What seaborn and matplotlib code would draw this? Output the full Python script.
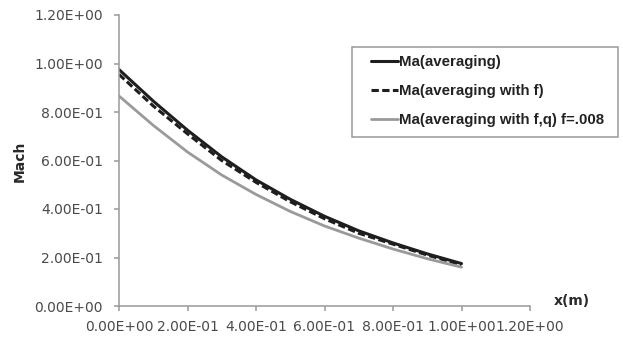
import numpy as np
import pandas as pd
import matplotlib
matplotlib.use("Agg")
import matplotlib.pyplot as plt
from matplotlib.patches import Rectangle
import seaborn as sns

x_vals = [0.0, 0.1, 0.2, 0.3, 0.4, 0.5, 0.6, 0.7, 0.8, 0.9, 1.0]
ma_avg = [0.975, 0.845, 0.725, 0.615, 0.52, 0.44, 0.37, 0.31, 0.26, 0.215, 0.175]
ma_avg_f = [0.955, 0.825, 0.71, 0.60, 0.51, 0.43, 0.36, 0.30, 0.255, 0.21, 0.17]
ma_avg_fq = [0.866, 0.745, 0.635, 0.54, 0.46, 0.39, 0.33, 0.28, 0.235, 0.195, 0.16]
series_names = ["Ma(averaging)", "Ma(averaging with f)", "Ma(averaging with f,q) f=.008"]
x_ticks = [0.0, 0.2, 0.4, 0.6, 0.8, 1.0, 1.2]
y_ticks = [0.0, 0.2, 0.4, 0.6, 0.8, 1.0, 1.2]

sns.set_theme(style="white")
plt.rcParams['font.family'] = ['DejaVu Sans']

df = pd.DataFrame({
    "x": x_vals * 3,
    "Mach": ma_avg + ma_avg_f + ma_avg_fq,
    "series": [series_names[0]] * len(x_vals) + [series_names[1]] * len(x_vals) + [series_names[2]] * len(x_vals),
})

W, H = 623, 343
fig = plt.figure(figsize=(W / 100, H / 100), dpi=100)
ax = fig.add_axes([119/W, 1-306/H, (530-119)/W, (306-15)/H])

styles = {
    series_names[0]: dict(color="#1e1e1e", linestyle="-", linewidth=2.2),
    series_names[1]: dict(color="#1e1e1e", linestyle=(0, (2.4, 1.1)), linewidth=2.2),
    series_names[2]: dict(color="#9a9a9a", linestyle="-", linewidth=2.0),
}
for name in series_names:
    sub = df[df["series"] == name]
    sns.lineplot(data=sub, x="x", y="Mach", ax=ax, label=name, **styles[name])

ax.set_xlim(0, 1.2)
ax.set_ylim(0, 1.2)
ax.set_xticks(x_ticks)
ax.set_yticks(y_ticks)
ax.set_xticklabels([f"{v:.2E}" for v in x_ticks])
ax.set_yticklabels([f"{v:.2E}" for v in y_ticks])
ax.set_xlabel("")
ax.set_ylabel("")
for s in ["top", "right"]:
    ax.spines[s].set_visible(False)
for s in ["left", "bottom"]:
    ax.spines[s].set_color("#999999")
    ax.spines[s].set_linewidth(1.1)
ax.tick_params(axis="both", which="major", direction="out", length=3.6, width=1.1,
               color="#999999", labelsize=10, labelcolor="#4a4a4a")
ax.tick_params(axis="y", pad=8)
ax.tick_params(axis="x", pad=6.5)
ax.tick_params(left=True, bottom=True)

fig.text(20/W, 1-161/H, "Mach", rotation=90, ha="center", va="center",
         fontsize=10, fontweight="bold", color="#2a2a2a")
fig.text(572/W, 1-301/H, "x(m)", ha="center", va="center",
         fontsize=10, fontweight="bold", color="#2a2a2a")

# legend frame
ax.add_patch(Rectangle((352/W, 1-137/H), (618-352)/W, (137-47)/H,
                       transform=fig.transFigure, facecolor="white",
                       edgecolor="#999999", linewidth=1.1, zorder=4, clip_on=False))

leg = ax.legend(loc="upper left", bbox_to_anchor=(371/W, 1-55/H),
                bbox_transform=fig.transFigure, frameon=False,
                handlelength=1.8, handletextpad=0.05, borderaxespad=0,
                labelspacing=1.0, borderpad=0,
                prop={"family": "Liberation Sans", "weight": "bold", "size": 10.8})
leg.set_zorder(6)
for t in leg.get_texts():
    t.set_color("#222222")

fig.savefig("out.png", dpi=100)
